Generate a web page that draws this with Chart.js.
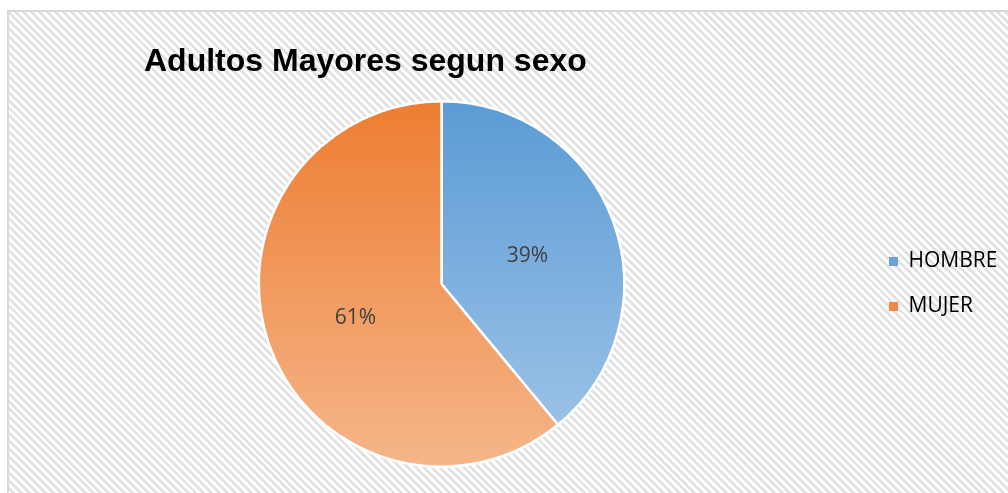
<!DOCTYPE html>
<html>
<head>
<meta charset="utf-8">
<script src="https://cdn.jsdelivr.net/npm/chart.js@4"></script>
<style>
    html, body { margin: 0; padding: 0; background: #fff; }
    #wrap { position: relative; width: 1008px; height: 493px; overflow: hidden; }
    #frame {
        position: absolute; left: 7px; top: 10px; width: 1010px; height: 490px;
        border: 2px solid #d9d9d9;
        background: repeating-linear-gradient(45deg, #ffffff 0px, #ffffff 2.8px, #e2e2e2 2.8px, #e2e2e2 5.6px);
    }
    #pieChart { position: absolute; left: 0; top: 0; }
</style>
</head>
<body>
<div id="wrap">
    <div id="frame"></div>
    <canvas id="pieChart" width="1008" height="493"></canvas>
</div>
<script>
const titleText = 'Adultos Mayores segun sexo';
const categories = ['HOMBRE', 'MUJER'];
const percentages = [39, 61];

const topColors = ['#5b9bd5', '#ed7d31'];
const bottomColors = ['#a2c6e8', '#f5b68a'];
const legendColors = ['#6ba3d9', '#ef8a46'];

const legendFont = 21;
const legendPad = 24;
const legendBox = 9;
const legendLeft = 865;   // where the legend box should start (marker at legendLeft + padding)

function sliceGradient(context) {
    const chart = context.chart;
    const area = chart.chartArea;
    const i = context.dataIndex;
    if (!area) return topColors[i];
    const cy = (area.top + area.bottom) / 2;
    const r = (area.bottom - area.top) / 2;
    const g = chart.ctx.createLinearGradient(0, cy - r, 0, cy + r);
    g.addColorStop(0, topColors[i]);
    g.addColorStop(1, bottomColors[i]);
    return g;
}

const titlePlugin = {
    id: 'excelTitle',
    afterDraw(chart) {
        const ctx = chart.ctx;
        ctx.save();
        ctx.font = 'bold 32px "Liberation Sans", Arial, sans-serif';
        ctx.fillStyle = '#000000';
        ctx.textBaseline = 'alphabetic';
        ctx.textAlign = 'left';
        ctx.fillText(titleText, 144, 71);
        ctx.restore();
    }
};

const percentPlugin = {
    id: 'percentLabels',
    afterDatasetsDraw(chart) {
        const ctx = chart.ctx;
        const meta = chart.getDatasetMeta(0);
        ctx.save();
        ctx.font = '21px "Open Sans", sans-serif';
        ctx.fillStyle = '#404040';
        ctx.textAlign = 'center';
        ctx.textBaseline = 'middle';
        meta.data.forEach((arc, i) => {
            const p = arc.getCenterPoint();
            ctx.fillText(percentages[i] + '%', p.x, p.y + 3);
        });
        ctx.restore();
    }
};

const pieChart = new Chart(document.getElementById('pieChart'), {
    type: 'pie',
    data: {
        labels: categories,
        datasets: [{
            data: percentages,
            backgroundColor: sliceGradient,
            borderColor: '#ffffff',
            borderWidth: 2.5
        }]
    },
    options: {
        responsive: false,
        animation: false,
        layout: {
            padding: { left: 18, right: 20, top: 100, bottom: 25 }
        },
        plugins: {
            tooltip: { enabled: false },
            legend: {
                position: 'right',
                labels: {
                    boxWidth: legendBox,
                    boxHeight: legendBox,
                    padding: legendPad,
                    color: '#595959',
                    font: { family: '"Open Sans", sans-serif', size: legendFont },
                    generateLabels: function(chart) {
                        return categories.map((label, i) => ({
                            text: label,
                            fillStyle: legendColors[i],
                            strokeStyle: legendColors[i],
                            lineWidth: 0,
                            hidden: false,
                            index: i
                        }));
                    }
                }
            }
        }
    },
    plugins: [titlePlugin, percentPlugin]
});

// shift the legend so the pie sits where the reference has it
const shift = legendLeft - pieChart.legend.left;
pieChart.options.layout.padding.right = 20 - shift;
pieChart.update();
</script>
</body>
</html>
